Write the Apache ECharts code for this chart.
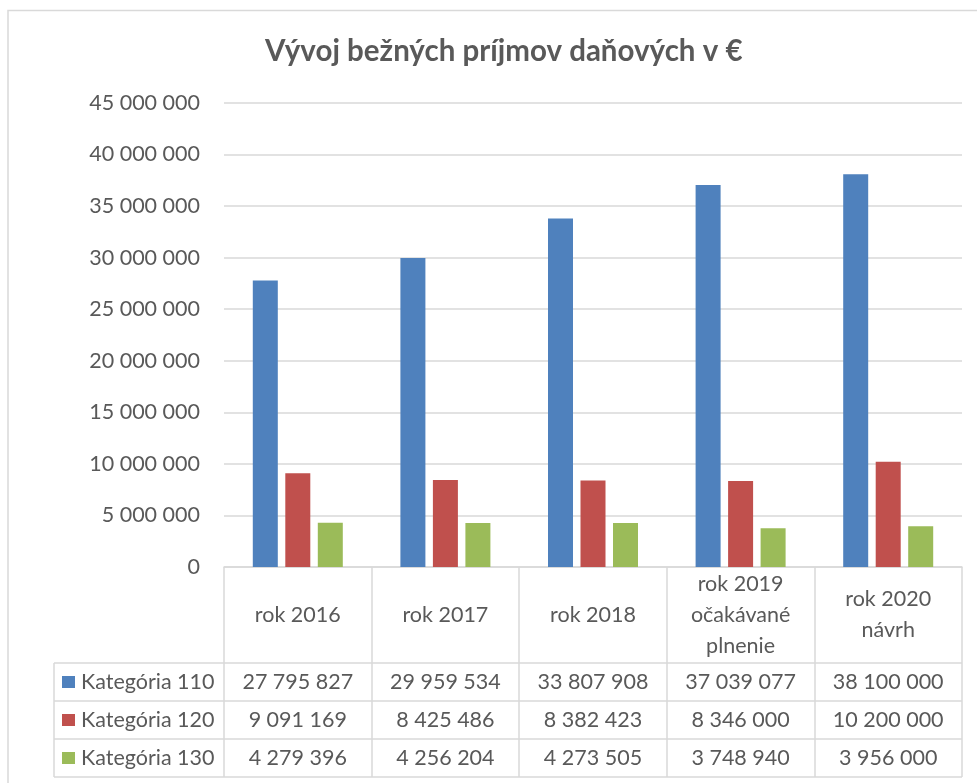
<!DOCTYPE html>
<html>
<head>
<meta charset="utf-8">
<script src="https://cdn.jsdelivr.net/npm/echarts@6/dist/echarts.min.js"></script>
<style>
html,body{margin:0;padding:0;background:#fff;}
#chart{width:977px;height:783px;}
</style>
</head>
<body>
<div id="chart"></div>
<script>
const titleText = 'Vývoj bežných príjmov daňových v €';
const categories = ['rok 2016', 'rok 2017', 'rok 2018', 'rok 2019\nočakávané\nplnenie', 'rok 2020\nnávrh'];
const seriesNames = ['Kategória 110', 'Kategória 120', 'Kategória 130'];
const kat110 = [27795827, 29959534, 33807908, 37039077, 38100000];
const kat120 = [9091169, 8425486, 8382423, 8346000, 10200000];
const kat130 = [4279396, 4256204, 4273505, 3748940, 3956000];
const yMin = 0, yMax = 45000000, yStep = 5000000;
const colors = ['#4F81BD', '#C0504D', '#9BBB59'];

const FONT = 'Lato';
const TXT = '#595959';
const LINE = '#D9D9D9';
const FS = 21.5;

function fmt(v) {
  return String(v).replace(/\B(?=(\d{3})+(?!\d))/g, ' ');
}

const GRID = { left: 224, right: 15, top: 103, bottom: 216 };
const TABLE_LEFT = 54;
const HEADER_H = 96;
const ROW_H = 38;

const chart = echarts.init(document.getElementById('chart'), null, { renderer: 'canvas' });
const allSeries = [kat110, kat120, kat130];

chart.setOption({
  animation: false,
  backgroundColor: '#fff',
  textStyle: { fontFamily: FONT },
  title: {
    text: titleText,
    left: 260,
    top: 31,
    textStyle: { fontFamily: FONT, fontSize: 29.5, fontWeight: 'bold', color: TXT }
  },
  grid: GRID,
  xAxis: {
    type: 'category',
    data: categories,
    axisLine: { show: true, lineStyle: { color: LINE, width: 1.5 } },
    axisTick: { show: true, length: HEADER_H + ROW_H * 3, alignWithLabel: false, lineStyle: { color: LINE, width: 1.5 } },
    axisLabel: {
      margin: HEADER_H / 2,
      verticalAlign: 'middle',
      fontFamily: FONT,
      fontSize: FS,
      color: TXT,
      lineHeight: 31,
      interval: 0
    },
    splitLine: { show: false }
  },
  yAxis: {
    type: 'value',
    min: yMin,
    max: yMax,
    interval: yStep,
    axisLine: { show: false },
    axisTick: { show: false },
    axisLabel: {
      margin: 24,
      fontFamily: FONT,
      fontSize: FS,
      color: TXT,
      formatter: v => fmt(v)
    },
    splitLine: { lineStyle: { color: LINE, width: 1.5 } }
  },
  series: allSeries.map((d, i) => ({
    name: seriesNames[i],
    type: 'bar',
    data: d,
    barWidth: 25,
    barGap: '30%',
    itemStyle: { color: colors[i] }
  }))
});

function drawTable() {
  const w = chart.getWidth(), h = chart.getHeight();
  const x1 = w - GRID.right;
  const yBase = h - GRID.bottom;
  const rowTop = yBase + HEADER_H;
  const els = [];
  els.push({ type: 'rect', shape: { x: 8, y: 10.5, width: 1000, height: 800 }, style: { fill: 'none', stroke: LINE, lineWidth: 1.5 }, silent: true });
  for (let r = 0; r <= 3; r++) {
    const y = rowTop + r * ROW_H;
    els.push({ type: 'line', shape: { x1: TABLE_LEFT, y1: y, x2: x1, y2: y }, style: { stroke: LINE, lineWidth: 1.5 }, silent: true });
  }
  els.push({ type: 'line', shape: { x1: TABLE_LEFT, y1: rowTop, x2: TABLE_LEFT, y2: rowTop + 3 * ROW_H }, style: { stroke: LINE, lineWidth: 1.5 }, silent: true });
  allSeries.forEach((d, r) => {
    const cy = rowTop + r * ROW_H + ROW_H / 2;
    els.push({ type: 'rect', shape: { x: 62, y: cy - 6, width: 13, height: 12 }, style: { fill: colors[r] }, silent: true });
    els.push({ type: 'text', x: 81, y: cy, style: { text: seriesNames[r], fontFamily: FONT, fontSize: FS, fill: TXT, align: 'left', verticalAlign: 'middle' }, silent: true });
    d.forEach((v, c) => {
      const cx = chart.convertToPixel({ xAxisIndex: 0 }, c);
      els.push({ type: 'text', x: cx, y: cy, style: { text: fmt(v), fontFamily: FONT, fontSize: FS, fill: TXT, align: 'center', verticalAlign: 'middle' }, silent: true });
    });
  });
  chart.setOption({ graphic: { elements: els } });
}
drawTable();
</script>
</body>
</html>
